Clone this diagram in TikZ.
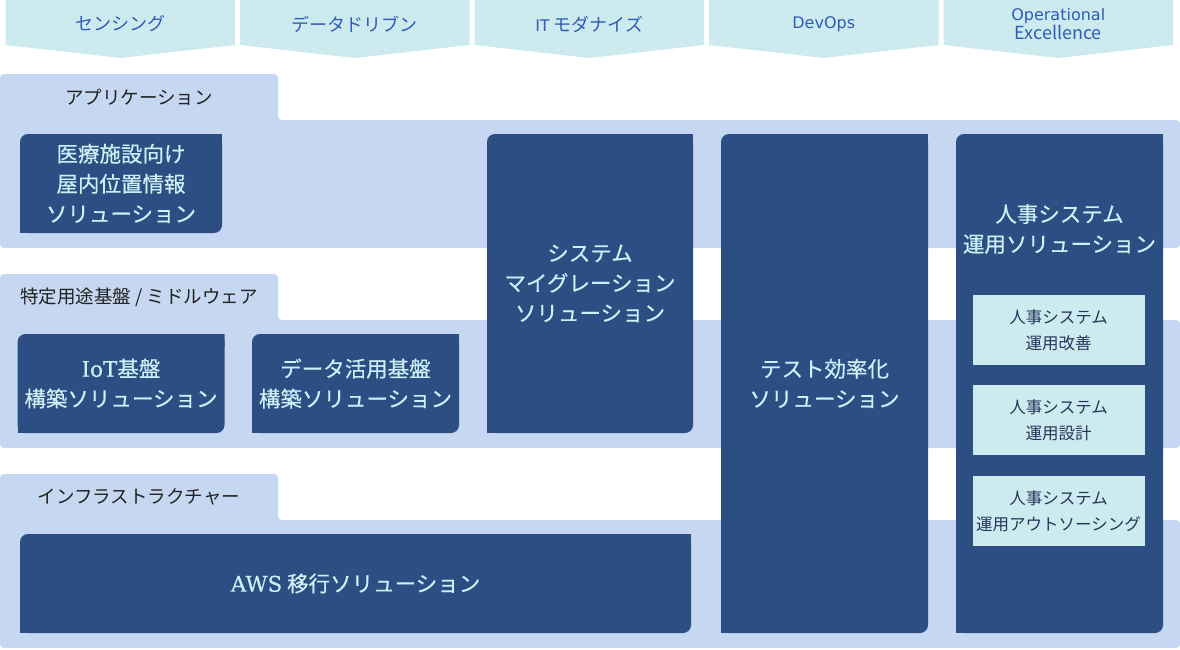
\documentclass[tikz,border=0pt]{standalone}
\usepackage{fontspec}
\setmainfont{Noto Sans CJK JP}
\newfontfamily\solfont[FakeBold=0.4]{Noto Sans CJK JP}
\newfontfamily\latinsans{DejaVu Sans}
\newfontfamily\latinserif[FakeBold=0.4]{DejaVu Serif}
\newcommand\hdlatin{\latinsans\fontsize{16}{19}\selectfont}
\usetikzlibrary{positioning}

\definecolor{headfill}{HTML}{CDEBEF}
\definecolor{headblue}{HTML}{2E5CB4}
\definecolor{bandblue}{HTML}{C6D7F2}
\definecolor{darkblue}{HTML}{2C4E82}
\definecolor{lightcyan}{HTML}{CDF0F7}
\definecolor{subtext}{HTML}{24365A}
\definecolor{tabgray}{HTML}{222222}

\tikzstyle{header} = [text=headblue, align=center, font=\fontsize{18}{19}\selectfont]
\tikzstyle{tab} = [text=tabgray, font=\fontsize{18.5}{20}\selectfont]
\tikzstyle{soltext} = [text=lightcyan, align=center, font=\solfont\fontsize{21.5}{30}\selectfont]
\tikzstyle{solution} = [soltext, inner sep=0pt, path picture={
  \fill[darkblue, rounded corners=8pt] (path picture bounding box.north west) rectangle (path picture bounding box.south east);
  \fill[darkblue] (path picture bounding box.north east) rectangle ++(-12pt,-12pt);
  \fill[darkblue] (path picture bounding box.south west) rectangle ++(12pt,12pt);}]
\tikzstyle{subbox} = [fill=headfill, text=subtext, align=center, inner sep=0pt, minimum width=172pt, minimum height=70pt, font=\fontsize{16.5}{26}\selectfont]

\begin{document}
\begin{tikzpicture}[x=1pt, y=-1pt]
\useasboundingbox (0,0) rectangle (1180,649);

% header arrows
\foreach \i/\txt in {0/センシング, 1/データドリブン, 2/{{\hdlatin IT} モダナイズ}, 3/{\hdlatin DevOps}, 4/{\hdlatin Operational\\Excellence}} {
  \pgfmathsetmacro\xl{5.5+234.5*\i}
  \fill[headfill] (\xl,0) -- ++(229.5,0) -- ++(0,45) -- ++(-114.75,13) -- ++(-114.75,-13) -- cycle;
  \node (h\i) [header] at (\xl+114.75,24) {\txt};
}

% layer bands
\foreach \top in {74, 274, 474} {
  \fill[bandblue, rounded corners=4pt] (0,\top) -- (278,\top) -- (278,\top+46) -- (1180,\top+46) -- (1180,\top+174) -- (0,\top+174) -- cycle;
}
\node (apptab) [tab] at (139,97) {アプリケーション};
\node (midtab) [tab] at (139,297) {特定用途基盤 / ミドルウェア};
\node (infratab) [tab] at (139,497) {インフラストラクチャー};

% solutions
\node (med) [solution, minimum width=202pt, minimum height=99pt] at (121,183.5) {医療施設向け\\屋内位置情報\\ソリューション};
\node (mig) [solution, minimum width=206pt, minimum height=299pt] at (590,283.5) {システム\\マイグレーション\\ソリューション};
\node (test) [solution, minimum width=207pt, minimum height=499pt] at (824.5,383.5) {テスト効率化\\ソリューション};
\node (hr) [solution, minimum width=207pt, minimum height=499pt] at (1059.5,383.5) {};
\node (hrlabel) [soltext] at (1059.5,229) {人事システム\\運用ソリューション};
\node (iot) [solution, minimum width=207pt, minimum height=99pt] at (121,383.5) {{\latinserif IoT}基盤\\構築ソリューション};
\node (data) [solution, minimum width=207pt, minimum height=99pt] at (355.5,383.5) {データ活用基盤\\構築ソリューション};
\node (aws) [solution, minimum width=671pt, minimum height=99pt] at (355.5,583.5) {{\latinserif AWS} 移行ソリューション};

% hr sub-services
\node (hr1) [subbox] at (1058.5,330) {人事システム\\運用改善};
\node (hr2) [subbox, below=20pt of hr1] {人事システム\\運用設計};
\node (hr3) [subbox, below=20pt of hr2] {人事システム\\運用アウトソーシング};

\end{tikzpicture}
\end{document}
